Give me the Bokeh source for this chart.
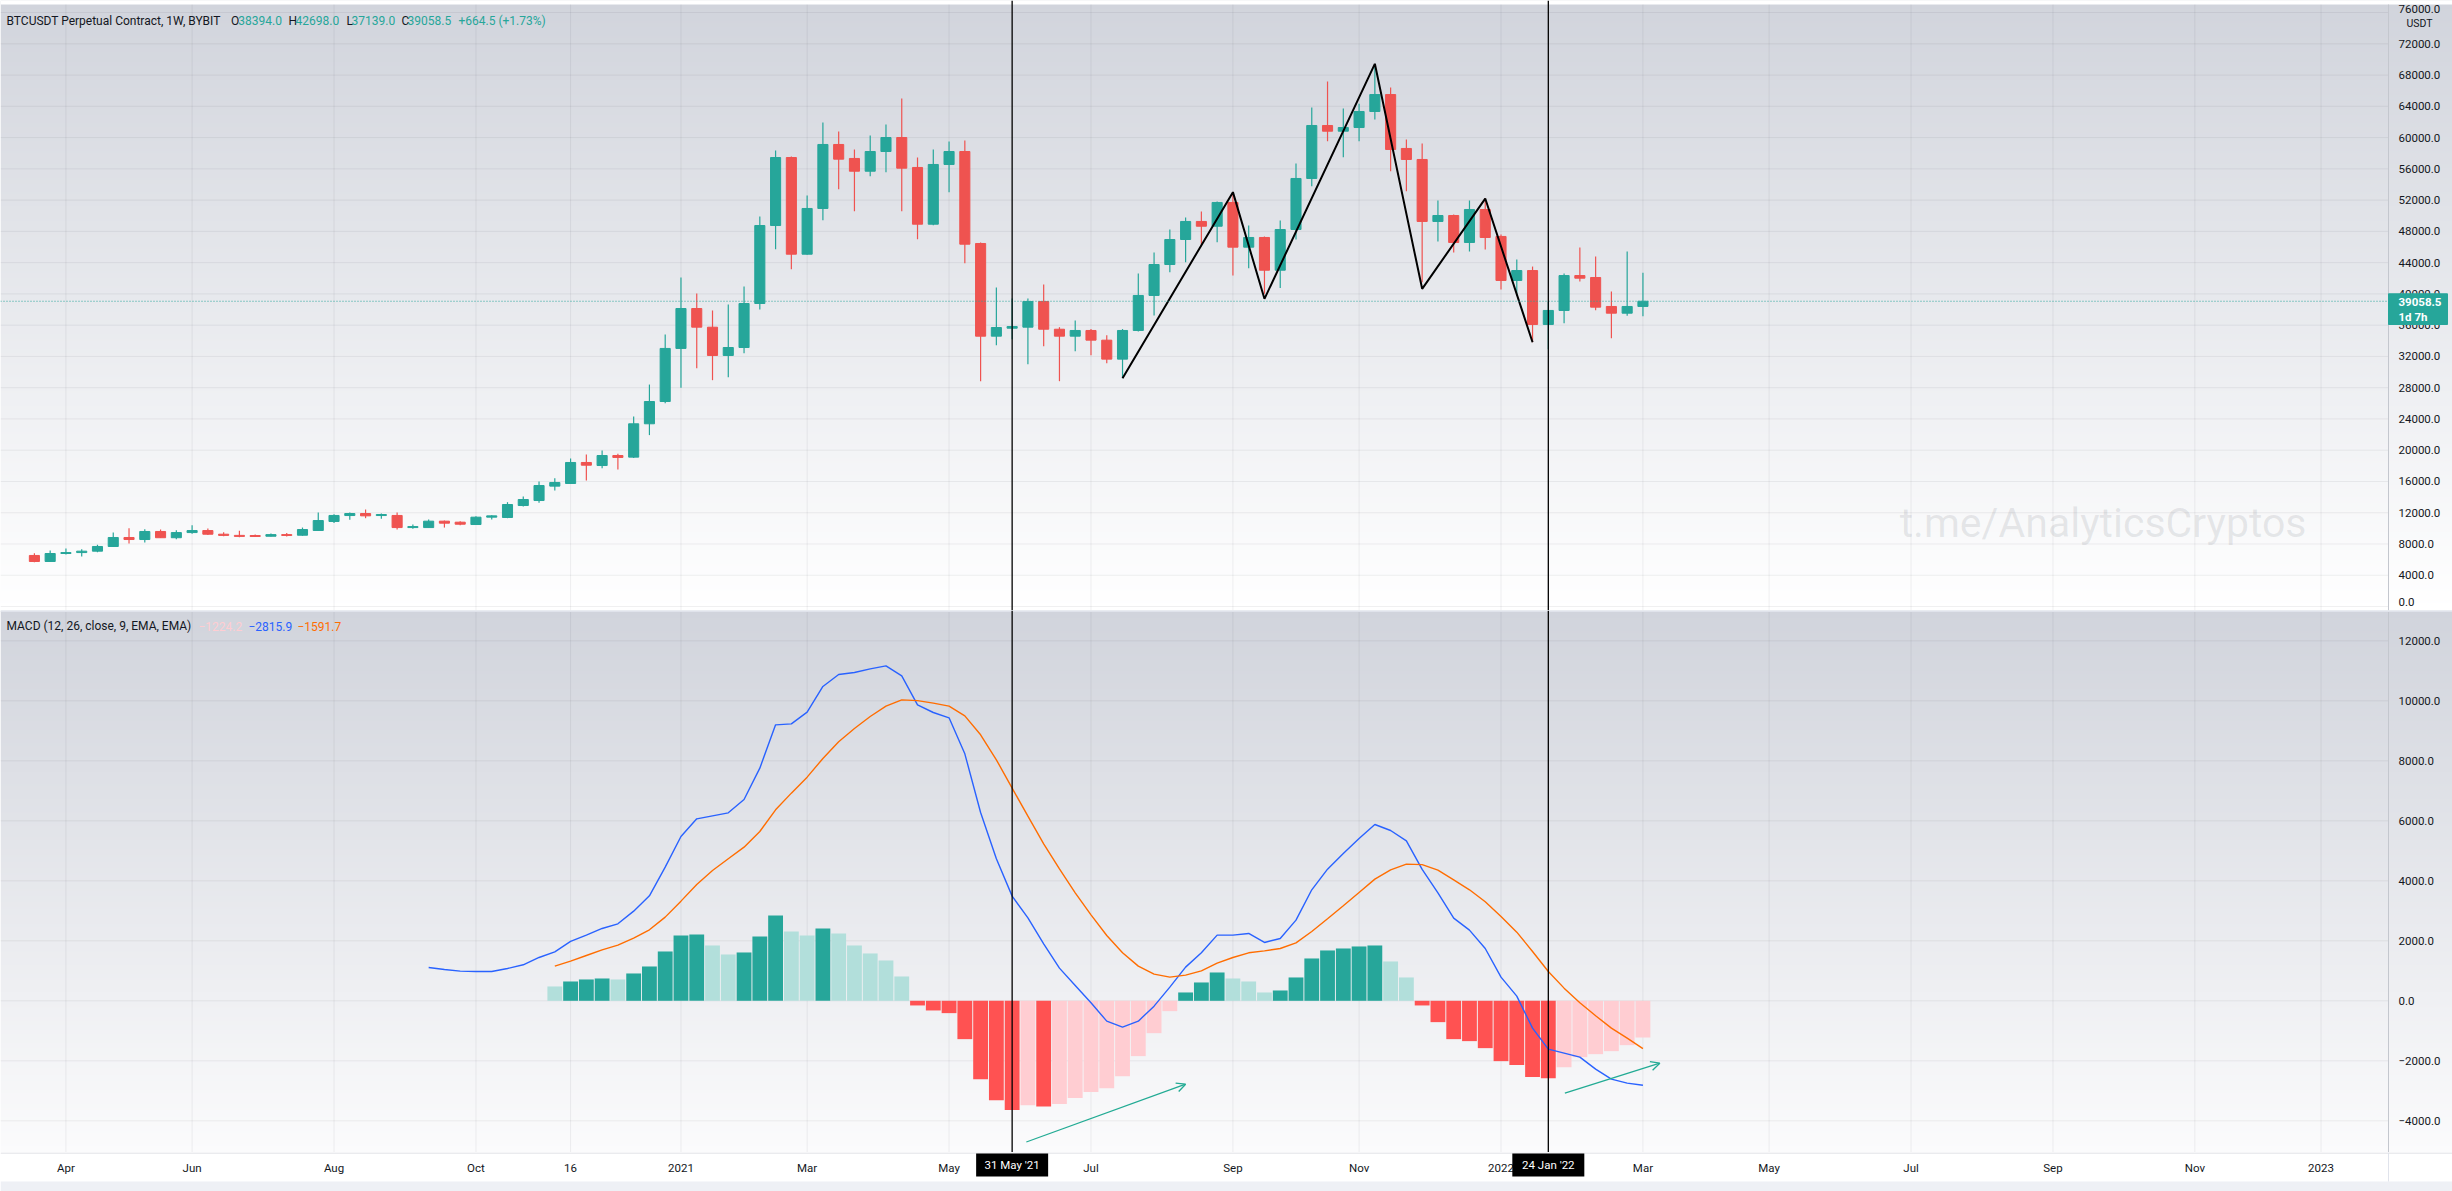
import numpy as np
from bokeh.plotting import figure
from bokeh.models import Span, Arrow, OpenHead, Range1d
from bokeh.layouts import column
from bokeh.embed import file_html
from bokeh.resources import INLINE
from bokeh.core.properties import value

# ---------------- data (weekly bars, bar 0 = week of 2020-03-23) ----------------
first_week = "2020-03-23"
opens = [6530, 5760, 6780, 6900, 7080, 7680, 8830, 8570, 9600, 8800,
         9460, 9720, 9250, 9100, 9080, 8990, 9200, 9120, 9725, 10880,
         11640, 11900, 11640, 11650, 10100, 10100, 10920, 10790, 10490, 11430,
         11390, 12920, 13560, 15400, 15740, 18430, 18040, 19320, 19110, 23380,
         26230, 33020, 38130, 35740, 32120, 33140, 38770, 48750, 57450, 45080,
         50930, 59120, 57330, 55700, 58220, 60010, 56180, 48920, 56560, 58220,
         46450, 34590, 35610, 35740, 39030, 35480, 34590, 35320, 34080, 31650,
         35320, 39800, 43760, 46960, 49270, 48660, 51700, 45980, 47220, 43030,
         48240, 54770, 61550, 60820, 61290, 63340, 65510, 58610, 57200, 49270,
         50030, 46580, 50800, 47350, 41720, 42990, 36090, 37880, 42350, 42100,
         38390, 37530, 38394.0]
highs = [6820, 7170, 7420, 7330, 7890, 9470, 10020, 9900, 9850, 9750,
         10400, 9980, 9500, 9700, 9200, 9350, 9400, 10100, 12030, 11800,
         12030, 12410, 11900, 12030, 10490, 11130, 11000, 10920, 11560, 11690,
         13350, 14080, 15995, 16420, 18940, 19450, 19960, 19540, 24310, 28400,
         34800, 42100, 40050, 37880, 38640, 40950, 49900, 58350, 57580, 52600,
         61930, 60780, 58480, 60270, 61680, 65010, 57450, 58480, 59500, 59630,
         46580, 40820, 39410, 39410, 41200, 35740, 36590, 35500, 34720, 35500,
         42610, 45300, 48240, 49780, 50540, 51830, 52900, 48750, 47350, 49400,
         56690, 63850, 67180, 63720, 64320, 69000, 66410, 59760, 59250, 51950,
         50160, 51950, 52200, 47600, 44400, 43500, 39030, 42610, 45940, 44780,
         40310, 45430, 42698.0]
lows = [5650, 5700, 6650, 6400, 6950, 7600, 8060, 8190, 8750, 8600,
        9300, 9150, 9000, 8850, 8900, 8950, 8950, 9050, 9700, 10700,
        11100, 11300, 11215, 9850, 9940, 10100, 10100, 10400, 10450, 11130,
        11300, 12790, 13260, 14840, 15700, 16120, 17700, 17530, 19000, 21930,
        26000, 28000, 30500, 28960, 29340, 32420, 38000, 45720, 43160, 45000,
        49430, 53400, 50580, 55060, 55570, 50580, 47000, 48790, 53010, 43930,
        28830, 33440, 34200, 31000, 33310, 28830, 32670, 32160, 31130, 29220,
        35200, 37240, 42780, 44060, 46280, 46620, 42360, 43290, 40010, 40740,
        46960, 53780, 59540, 57490, 59540, 62320, 55700, 53140, 41500, 46700,
        45300, 45430, 45680, 40560, 39800, 33820, 32930, 36250, 41590, 37910,
        34330, 37200, 37139.0]
closes = [5760, 6780, 6900, 7080, 7680, 8830, 8570, 9600, 8800, 9460,
          9720, 9250, 9100, 8970, 8960, 9200, 9090, 9850, 11000, 11650,
          11900, 11600, 11770, 10100, 10230, 10920, 10660, 10530, 11430, 11600,
          13050, 13690, 15480, 15870, 18430, 18080, 19320, 19070, 23380, 26230,
          33020, 38130, 35740, 32120, 33140, 38770, 48750, 57450, 45080, 50930,
          59120, 57240, 55700, 58220, 60010, 56090, 48920, 56560, 58220, 46360,
          34590, 35700, 35830, 39030, 35480, 34590, 35320, 34080, 31650, 35320,
          39800, 43760, 46960, 49270, 48660, 51700, 45980, 47220, 43030, 48240,
          54770, 61550, 60820, 61290, 63340, 65510, 58480, 57200, 49270, 50030,
          46580, 50800, 47220, 41720, 42990, 36090, 37880, 42350, 42010, 38300,
          37530, 38390, 39058.5]

macd_first_bar = 25
macd_line = [1111, 1044, 989, 978, 978, 1078, 1200, 1444, 1633, 1978,
             2189, 2411, 2566, 2989, 3500, 4455, 5477, 6066, 6166, 6266,
             6711, 7755, 9199, 9232, 9621, 10477, 10877, 10944, 11066, 11166,
             10830, 9866, 9610, 9433, 8233, 6277, 4733, 3489, 2766, 1900,
             1089, 511, -67, -678, -878, -678, -178, 455, 1122, 1600,
             2189, 2189, 2244, 1944, 2078, 2689, 3700, 4389, 4911, 5411,
             5877, 5677, 5333, 4380, 3600, 2755, 2355, 1744, 789, 155,
             -911, -1611, -1744, -1878, -2278, -2611, -2744, -2816]
signal_first_bar = 33
signal_line = [1155, 1322, 1511, 1700, 1855, 2089, 2366, 2789, 3322, 3877,
               4344, 4733, 5122, 5644, 6366, 6922, 7455, 8077, 8633, 9077,
               9477, 9821, 10032, 10005, 9921, 9821, 9499, 8866, 8033, 7088,
               6155, 5233, 4400, 3600, 2866, 2178, 1600, 1155, 889, 789,
               855, 1000, 1255, 1444, 1600, 1666, 1744, 1933, 2311, 2733,
               3166, 3611, 4055, 4366, 4555, 4540, 4355, 4033, 3700, 3300,
               2811, 2289, 1644, 978, 422, -67, -500, -911, -1244, -1592]
histogram = [478, 644, 711, 744, 711, 911, 1144, 1644, 2178, 2211,
             1844, 1544, 1611, 2144, 2844, 2311, 2178, 2411, 2244, 1844,
             1578, 1344, 811, -155, -322, -411, -1278, -2611, -3311, -3644,
             -3480, -3520, -3444, -3244, -3044, -2911, -2511, -1844, -1078, -344,
             278, 611, 944, 744, 644, 278, 344, 778, 1411, 1678,
             1744, 1811, 1844, 1311, 778, -155, -711, -1278, -1344, -1578,
             -2011, -2144, -2544, -2578, -2211, -1878, -1778, -1678, -1478, -1224]

zigzag_bars = [69, 76, 78, 85, 88, 92, 95]
zigzag_prices = [29220, 53020, 39370, 69440, 40650, 52200, 33820]
marker_bars = [62, 96]
marker_texts = ["31 May '21", "24 Jan '22"]
arrow_bars = [(62.9, 73.0), (97.05, 103.07)]
arrow_values = [(-4707, -2780), (-3080, -2080)]

price_ticks = list(range(0, 76001, 4000))
macd_ticks = list(range(-4000, 12001, 2000))
time_ticks = [2, 10, 19, 28, 34, 41, 49, 58, 67, 76, 84, 93, 102, 110, 119, 128, 137, 145]
time_labels = ["Apr", "Jun", "Aug", "Oct", "16", "2021", "Mar", "May", "Jul", "Sep",
               "Nov", "2022", "Mar", "May", "Jul", "Sep", "Nov", "2023"]

last_price = 39058.5
countdown = "1d 7h"
header_name = "BTCUSDT Perpetual Contract, 1W, BYBIT"
header_ohlc = [("O", "38394.0"), ("H", "42698.0"), ("L", "37139.0"), ("C", "39058.5")]
header_change = "+664.5 (+1.73%)"
macd_title = "MACD (12, 26, close, 9, EMA, EMA)"
macd_legend_values = ["\u22121224.2", "\u22122815.9", "\u22121591.7"]
watermark = "t.me/AnalyticsCryptos"
currency = "USDT"

# ---------------- layout helpers ----------------
UP, DOWN = "#26a69a", "#ef5350"
GROW_ABOVE, FALL_ABOVE, GROW_BELOW, FALL_BELOW = "#26a69a", "#b2dfdb", "#ffcdd2", "#ff5252"
TXT = "#131722"
FONT = value("Roboto")

PX0, PXW = 33.9, 15.77          # page x of bar 0, pixels per bar
W = 2452
H_PRICE, H_MACD, H_AXIS = 610, 542, 39


def bx(px):
    return (px - PX0) / PXW


def price_at(py):
    return (606.0 - py) * 4000.0 / 31.26


def macd_at(py):
    return (1000.3 - py) * 2000.0 / 60.0


x_lo, x_hi = bx(0), bx(W)
x_axis = bx(2388)
x_lab = bx(2398)


def gradient(top, bottom, n=300):
    img = np.empty((n, 2), dtype=np.uint32)
    v = img.view(dtype=np.uint8).reshape((n, 2, 4))
    t = np.linspace(0.0, 1.0, n)
    for k in range(3):
        col = np.round(bottom[k] + (top[k] - bottom[k]) * t).astype(np.uint8)
        v[:, 0, k] = col
        v[:, 1, k] = col
    v[:, :, 3] = 255
    return img


def base_fig(height, y0, y1, bottom_rgb=None):
    p = figure(width=W, height=height, x_range=Range1d(x_lo, x_hi), y_range=Range1d(y0, y1),
               output_backend="svg", toolbar_location=None,
               x_axis_location=None, y_axis_location=None,
               min_border_left=0, min_border_right=0, min_border_top=0, min_border_bottom=0)
    p.grid.visible = False
    p.outline_line_color = None
    p.border_fill_color = "white"
    p.background_fill_color = "white"
    if bottom_rgb is not None:
        p.image_rgba(image=[gradient((209, 212, 220), bottom_rgb)],
                     x=x_lo, y=y0, dw=x_hi - x_lo, dh=y1 - y0, level="image")
    return p


grid_col = "#2a2e39"

# ---------------- price pane ----------------
py0, py1 = price_at(H_PRICE), price_at(0)
p1 = base_fig(H_PRICE, py0, py1, (255, 255, 255))
p1.quad(left=[x_lo], right=[x_hi], bottom=[price_at(4)], top=[py1], fill_color="white", line_color=None)

p1.segment(x0=time_ticks, y0=[py0] * len(time_ticks), x1=time_ticks, y1=[price_at(4)] * len(time_ticks),
           line_color=grid_col, line_alpha=0.07, line_width=1)
p1.segment(x0=[x_lo] * len(price_ticks), y0=price_ticks, x1=[x_axis] * len(price_ticks), y1=price_ticks,
           line_color=grid_col, line_alpha=0.07, line_width=1)

p1.text(x=[bx(2306)], y=[price_at(522)], text=[watermark], text_align="right", text_baseline="middle",
        text_font=FONT, text_font_size="41px", text_color="#787b86", text_alpha=0.16)

bars = list(range(len(opens)))
colors = [UP if c >= o else DOWN for o, c in zip(opens, closes)]
p1.segment(x0=bars, y0=lows, x1=bars, y1=highs, line_color=colors, line_width=1.2)
p1.vbar(x=bars, width=0.64, top=[max(o, c) for o, c in zip(opens, closes)],
        bottom=[min(o, c) for o, c in zip(opens, closes)], fill_color=colors, line_color=colors, line_width=1)

p1.line(zigzag_bars, zigzag_prices, line_color="black", line_width=2)

p1.segment(x0=[x_lo], y0=[last_price], x1=[x_axis], y1=[last_price], line_color=UP,
           line_dash="1 2", line_width=1.2)

# right price scale (drawn inside the gradient)
p1.segment(x0=[x_axis], y0=[py0], x1=[x_axis], y1=[price_at(4)], line_color="#c4c7ce", line_width=1)
mid_ticks = price_ticks[1:-1]
p1.text(x=[x_lab] * len(mid_ticks), y=mid_ticks, text=["%.1f" % t for t in mid_ticks],
        text_align="left", text_baseline="middle", text_font=FONT, text_font_size="11.5px", text_color=TXT)
p1.text(x=[x_lab], y=[price_at(605)], text=["%.1f" % price_ticks[0]],
        text_align="left", text_baseline="bottom", text_font=FONT, text_font_size="11.5px", text_color=TXT)
p1.text(x=[x_lab], y=[price_at(4.5)], text=["%.1f" % price_ticks[-1]],
        text_align="left", text_baseline="top", text_font=FONT, text_font_size="11.5px", text_color=TXT)
p1.text(x=[bx(2406)], y=[price_at(16.5)], text=[currency], text_align="left", text_baseline="top",
        text_font=FONT, text_font_size="10.5px", text_color=TXT)
p1.quad(left=[x_axis], right=[bx(2447)], bottom=[price_at(324)], top=[price_at(293.3)],
        fill_color=UP, line_color=UP)
p1.text(x=[x_lab, x_lab], y=[price_at(301.5), price_at(316.5)], text=["%.1f" % last_price, countdown],
        text_align="left", text_baseline="middle", text_font=FONT, text_font_size="11.5px",
        text_color="white", text_font_style="bold")

# header
hy = price_at(20)
p1.text(x=[bx(6)], y=[hy], text=[header_name], text_align="left", text_baseline="middle",
        text_font=FONT, text_font_size="12px", text_color=TXT)
letter_px = [230.6, 288, 346, 401]
value_px = [237.8, 295, 351, 407]
p1.text(x=[bx(v) for v in letter_px], y=[hy] * 4, text=[a for a, _ in header_ohlc], text_align="left",
        text_baseline="middle", text_font=FONT, text_font_size="12px", text_color=TXT)
p1.text(x=[bx(v) for v in value_px], y=[hy] * 4, text=[b for _, b in header_ohlc], text_align="left",
        text_baseline="middle", text_font=FONT, text_font_size="12px", text_color=UP)
p1.text(x=[bx(458)], y=[hy], text=[header_change], text_align="left", text_baseline="middle",
        text_font=FONT, text_font_size="12px", text_color=UP)

for b in marker_bars:
    p1.add_layout(Span(location=b, dimension="height", line_color="black", line_width=1.3))

# ---------------- MACD pane ----------------
my0, my1 = macd_at(H_PRICE + H_MACD), macd_at(H_PRICE)
p2 = base_fig(H_MACD, my0, my1, (251, 251, 252))

p2.segment(x0=time_ticks, y0=[my0] * len(time_ticks), x1=time_ticks, y1=[my1] * len(time_ticks),
           line_color=grid_col, line_alpha=0.07, line_width=1)
p2.segment(x0=[x_lo] * len(macd_ticks), y0=macd_ticks, x1=[x_axis] * len(macd_ticks), y1=macd_ticks,
           line_color=grid_col, line_alpha=0.07, line_width=1)

hist_bars = list(range(signal_first_bar, signal_first_bar + len(histogram)))
hist_colors = []
prev = None
for h in histogram:
    if h >= 0:
        hist_colors.append(GROW_ABOVE if (prev is not None and prev < h) else FALL_ABOVE)
    else:
        hist_colors.append(GROW_BELOW if (prev is not None and prev < h) else FALL_BELOW)
    prev = h
p2.vbar(x=hist_bars, width=0.94, top=histogram, bottom=0, fill_color=hist_colors, line_color=None)

p2.line(list(range(macd_first_bar, macd_first_bar + len(macd_line))), macd_line,
        line_color="#2962ff", line_width=1.4)
p2.line(list(range(signal_first_bar, signal_first_bar + len(signal_line))), signal_line,
        line_color="#ff6d00", line_width=1.4)

for (xa, xb), (ya, yb) in zip(arrow_bars, arrow_values):
    p2.add_layout(Arrow(end=OpenHead(size=9, line_color="#22ab94", line_width=1.3),
                        x_start=xa, y_start=ya, x_end=xb, y_end=yb,
                        line_color="#22ab94", line_width=1.3))

p2.segment(x0=[x_axis], y0=[my0], x1=[x_axis], y1=[my1], line_color="#c4c7ce", line_width=1)
p2.text(x=[x_lab] * len(macd_ticks), y=macd_ticks,
        text=[("%.1f" % t).replace("-", "\u2212") for t in macd_ticks],
        text_align="left", text_baseline="middle", text_font=FONT, text_font_size="11.5px", text_color=TXT)

ly = macd_at(625.7)
p2.text(x=[bx(6)], y=[ly], text=[macd_title], text_align="left", text_baseline="middle",
        text_font=FONT, text_font_size="12px", text_color=TXT)
p2.text(x=[bx(198), bx(248), bx(297)], y=[ly] * 3, text=macd_legend_values, text_align="left",
        text_baseline="middle", text_font=FONT, text_font_size="12px",
        text_color=["#ffcdd2", "#2962ff", "#ff6d00"])

p2.add_layout(Span(location=my1, dimension="width", line_color="#e0e3eb", line_width=3))
for b in marker_bars:
    p2.add_layout(Span(location=b, dimension="height", line_color="black", line_width=1.3))

# ---------------- time scale strip ----------------
p3 = base_fig(H_AXIS, 0, H_AXIS)
p3.quad(left=[x_lo], right=[x_hi], bottom=[0], top=[10], fill_color="#eef0f5", line_color=None)
p3.segment(x0=[x_lo], y0=[38.5], x1=[x_hi], y1=[38.5], line_color="#d6d8de", line_width=1)
p3.segment(x0=[x_axis], y0=[10], x1=[x_axis], y1=[39], line_color="#e0e3eb", line_width=1)
p3.text(x=time_ticks, y=[24] * len(time_ticks), text=time_labels, text_align="center",
        text_baseline="middle", text_font=FONT, text_font_size="11.5px", text_color=TXT)
half = 36.0 / PXW
p3.quad(left=[b - half for b in marker_bars], right=[b + half for b in marker_bars],
        bottom=[15] * len(marker_bars), top=[38] * len(marker_bars), fill_color="black", line_color=None)
p3.text(x=marker_bars, y=[26.5] * len(marker_bars), text=marker_texts, text_align="center",
        text_baseline="middle", text_font=FONT, text_font_size="11.5px", text_color="white")

layout = column(p1, p2, p3, spacing=0)
open("out.html", "w").write(file_html(layout, INLINE))
